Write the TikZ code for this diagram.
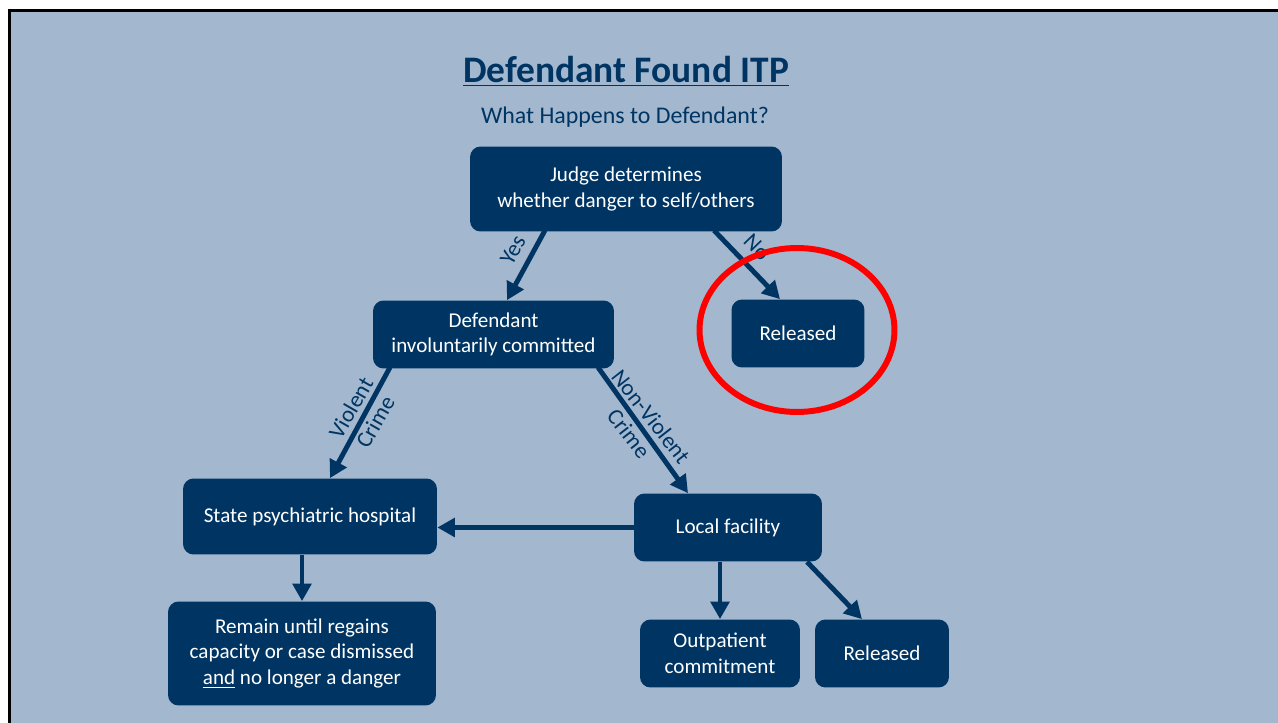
\documentclass[tikz,border=0pt]{standalone}
\usepackage{fontspec}
\setmainfont{Carlito}
\usetikzlibrary{arrows.meta,calc}
\definecolor{navy}{RGB}{0,53,99}
\definecolor{slide}{RGB}{163,184,207}
\tikzset{
  box/.style={fill=navy, text=white, rounded corners=6pt, align=center, inner sep=0pt,
    font=\fontsize{12}{14.5}\selectfont},
  arr/.style={draw=navy, line width=2.8pt, -{Triangle[width=10.5pt,length=10pt]}},
  lbl/.style={text=navy, align=center, inner sep=1pt, font=\fontsize{13}{16}\selectfont},
}
\begin{document}
\begin{tikzpicture}[x=0.02cm, y=-0.02cm]
  \useasboundingbox (0,0) rectangle (1278,723);
  % slide
  \fill[white] (0,0) rectangle (1278,723);
  \fill[slide] (10,10) rectangle (1278,723);
  \draw[black, line width=1.7pt] (9.5,723) -- (9.5,10.5) -- (1278,10.5);
  % titles
  \node[text=navy, font=\fontsize{21.3}{25}\bfseries\selectfont] (title) at (626,71) {\underline{Defendant Found ITP}};
  \node[text=navy, font=\fontsize{13.6}{16}\selectfont] (sub) at (625,117) {What Happens to Defendant?};
  % boxes
  \node[box, minimum width=6.24cm, minimum height=1.7cm] (judge) at (626,189) {Judge determines\\whether danger to self/others};
  \node[box, minimum width=4.82cm, minimum height=1.36cm] (defendant) at (493.5,334.5) {Defendant\\involuntarily committed};
  \node[box, minimum width=2.66cm, minimum height=1.36cm] (relone) at (798,333.5) {Released};
  \node[box, minimum width=5.08cm, minimum height=1.52cm] (state) at (310,516.5) {State psychiatric hospital};
  \node[box, minimum width=3.76cm, minimum height=1.36cm] (local) at (728,527.5) {Local facility};
  \node[box, minimum width=3.2cm, minimum height=1.36cm] (outpat) at (720,653.5) {Outpatient\\commitment};
  \node[box, minimum width=2.68cm, minimum height=1.36cm] (reltwo) at (882,653.5) {Released};
  \node[box, minimum width=5.36cm, minimum height=2.08cm] (remain) at (302,653.5) {Remain until regains\\capacity or case dismissed\\\underline{and} no longer a danger};
  % arrows
  \draw[arr] ($(judge.south)+(-81,-1.5)$) -- ($(defendant.north)+(13.5,0)$);
  \draw[arr] ($(judge.south)+(88,-1.5)$) -- ($(relone.north)+(-18,0)$);
  \draw[arr] ($(defendant.south)+(-103.5,-1.5)$) -- ($(state.north)+(20,0)$);
  \draw[arr] ($(defendant.south)+(104.5,-1.5)$) -- ($(local.north)+(-40,0)$);
  \draw[arr] (local.west) -- (local.west -| state.east);
  \draw[arr] (state.south -| remain.north) -- (remain.north);
  \draw[arr] (local.south -| outpat.north) -- (outpat.north);
  \draw[arr] ($(local.south)+(79,0)$) -- ($(reltwo.north)+(-20,0)$);
  % labels
  \node[lbl, rotate=61] (yes) at (513,250) {Yes};
  \node[lbl, rotate=-46] (no) at (757,247) {No};
  \node[lbl, rotate=60] (violent) at (363,415) {Violent\\Crime};
  \node[lbl, rotate=-52] (nonviolent) at (640,425) {Non-Violent\\Crime};
  % highlight
  \draw[red, line width=3.4pt] (797,330) ellipse [x radius=1.95cm, y radius=1.64cm];
\end{tikzpicture}
\end{document}
